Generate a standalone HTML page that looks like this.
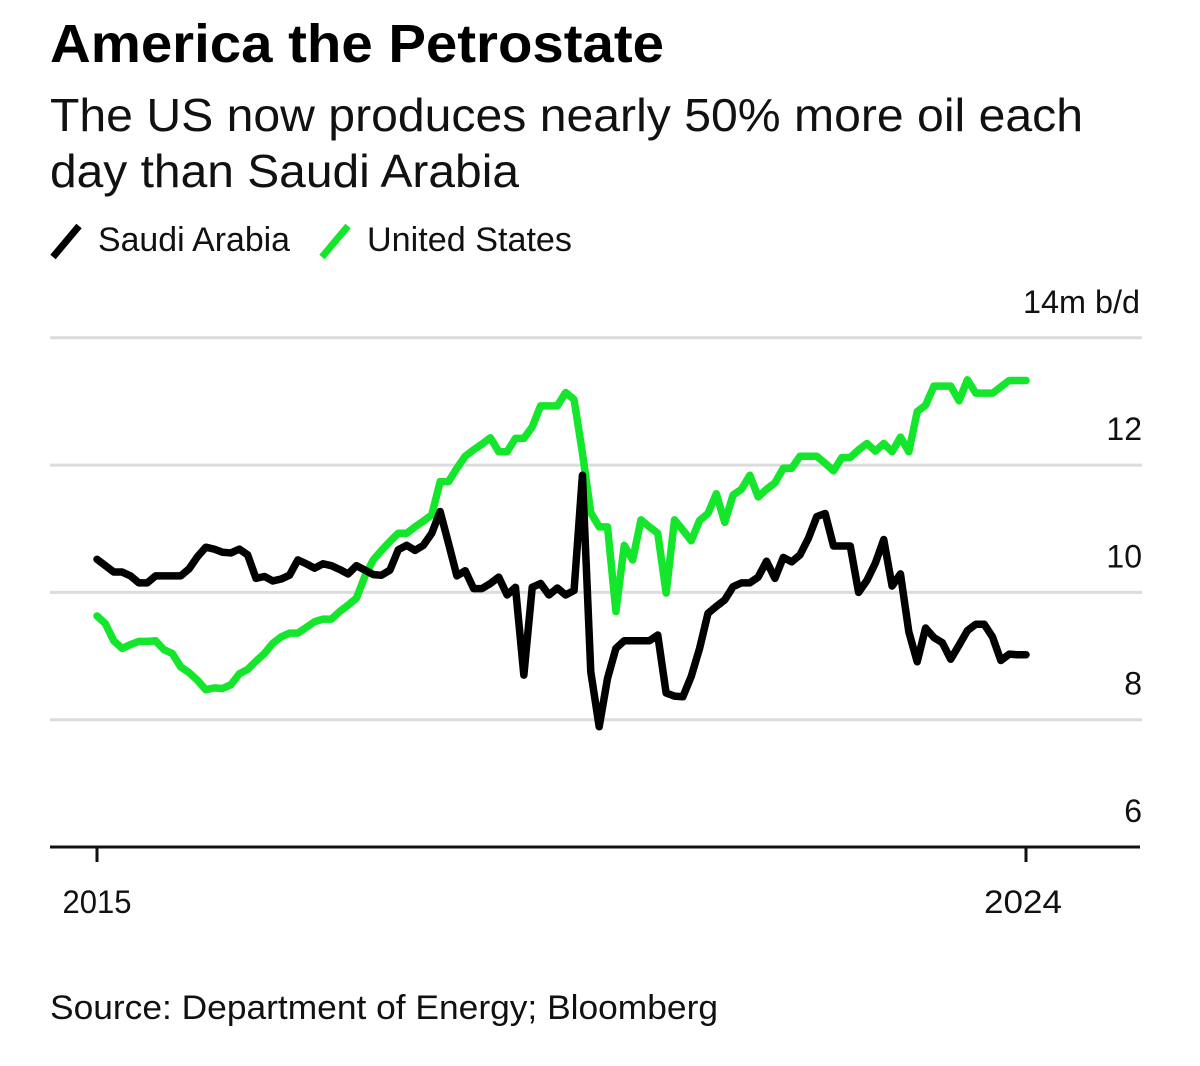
<!DOCTYPE html>
<html lang="en">
<head>
<meta charset="utf-8">
<title>America the Petrostate</title>
<style>
  html, body { margin: 0; padding: 0; background: #fff; }
  svg { display: block; }
  text { font-family: "Liberation Sans", Arial, sans-serif; fill: #111; }
</style>
</head>
<body>
<svg id="chart" xmlns="http://www.w3.org/2000/svg" width="1200" height="1066" viewBox="0 0 1200 1066">
  <rect x="0" y="0" width="1200" height="1066" fill="#fff"/>
  <text x="50" y="62" font-size="54" font-weight="700" textLength="614" lengthAdjust="spacingAndGlyphs" style="fill:#000">America the Petrostate</text>
  <text x="50" y="131" font-size="46" textLength="1033" lengthAdjust="spacingAndGlyphs">The US now produces nearly 50% more oil each</text>
  <text x="50" y="187" font-size="46" textLength="469" lengthAdjust="spacingAndGlyphs">day than Saudi Arabia</text>

  <g>
    <line x1="53" y1="257" x2="79" y2="226" stroke="#000" stroke-width="7"/>
    <text x="98" y="251" font-size="34" textLength="192" lengthAdjust="spacingAndGlyphs">Saudi Arabia</text>
    <line x1="322" y1="257" x2="348" y2="226" stroke="#14e62c" stroke-width="7"/>
    <text x="367" y="251" font-size="34" textLength="205" lengthAdjust="spacingAndGlyphs">United States</text>
  </g>

  <g id="grid"></g>
  <g id="y-labels"></g>
  <g id="series"></g>
  <g id="x-axis"></g>

  <text x="50" y="1019" font-size="34" textLength="668" lengthAdjust="spacingAndGlyphs">Source: Department of Energy; Bloomberg</text>
</svg>

<script>
const yTickValues = [14, 12, 10, 8, 6];
const yTickLabels = ["14m b/d", "12", "10", "8", "6"];
const xTickIndexes = [0, 111];
const xTickLabels = ["2015", "2024"];

const saudiArabia = [
  10.52,10.42,10.32,10.32,10.26,10.15,10.15,10.26,10.26,10.26,10.26,10.37,10.56,10.71,10.68,10.63,
  10.62,10.68,10.59,10.22,10.25,10.18,10.21,10.27,10.51,10.45,10.38,10.45,10.42,10.36,10.29,10.42,
  10.35,10.28,10.27,10.35,10.67,10.74,10.66,10.74,10.93,11.27,10.77,10.26,10.34,10.06,10.06,10.14,
  10.24,9.96,10.08,8.70,10.08,10.14,9.96,10.07,9.96,10.03,11.84,8.75,7.89,8.65,9.12,9.24,
  9.24,9.24,9.24,9.33,8.42,8.37,8.36,8.68,9.12,9.67,9.78,9.88,10.09,10.15,10.15,10.24,
  10.49,10.22,10.55,10.48,10.59,10.85,11.19,11.24,10.73,10.73,10.73,10.00,10.19,10.46,10.83,10.10,
  10.29,9.38,8.91,9.44,9.29,9.21,8.95,9.17,9.40,9.50,9.50,9.30,8.93,9.03,9.02,9.02
];

const unitedStates = [
  9.63,9.51,9.24,9.12,9.18,9.23,9.23,9.24,9.10,9.04,8.83,8.74,8.62,8.47,8.50,8.49,
  8.55,8.72,8.79,8.92,9.04,9.20,9.30,9.36,9.36,9.45,9.54,9.58,9.58,9.70,9.80,9.91,
  10.25,10.51,10.66,10.80,10.93,10.93,11.03,11.12,11.22,11.74,11.74,11.95,12.14,12.24,12.33,12.43,
  12.21,12.21,12.42,12.42,12.60,12.93,12.93,12.93,13.14,13.03,12.19,11.25,11.03,11.03,9.70,10.74,
  10.51,11.14,11.03,10.93,9.99,11.14,10.98,10.81,11.13,11.24,11.55,11.10,11.53,11.62,11.84,11.50,
  11.62,11.72,11.95,11.95,12.14,12.14,12.14,12.03,11.91,12.12,12.12,12.24,12.34,12.22,12.34,12.21,
  12.44,12.21,12.84,12.94,13.24,13.24,13.24,13.01,13.34,13.13,13.13,13.13,13.23,13.33,13.33,13.33
];

const SVG_NS = "http://www.w3.org/2000/svg";
const plotLeft = 97, plotRight = 1026, baseY = 847, unitPx = 63.65;
const pointCount = saudiArabia.length;

function xScale(i) {
  return plotLeft + i * (plotRight - plotLeft) / (pointCount - 1);
}
function yScale(v) {
  return baseY - (v - 6) * unitPx;
}
function make(tag, attrs, parent, content) {
  const el = document.createElementNS(SVG_NS, tag);
  Object.keys(attrs).forEach(function (k) { el.setAttribute(k, attrs[k]); });
  if (content !== undefined) el.textContent = content;
  parent.appendChild(el);
  return el;
}

const gridGroup = document.getElementById("grid");
const yLabelGroup = document.getElementById("y-labels");
yTickValues.forEach(function (v, i) {
  if (v !== 6) {
    const gridLine = make("line", { x1: 50, x2: 1142, y1: yScale(v), y2: yScale(v), stroke: "#dcdcdc", "stroke-width": 3 }, gridGroup);
    
    
  }
  const attrs = { x: i === 0 ? 1140 : 1142, y: yScale(v) - 25, "text-anchor": "end", "font-size": 32 };
  if (i === 0) { attrs.textLength = 117; attrs.lengthAdjust = "spacingAndGlyphs"; }
  const tickLabel = make("text", attrs, yLabelGroup, yTickLabels[i]);
  
  
});

const seriesGroup = document.getElementById("series");
function linePath(values) {
  return values.map(function (v, i) {
    return (i ? "L" : "M") + xScale(i).toFixed(2) + " " + yScale(v).toFixed(2);
  }).join(" ");
}
const usLine = make("path", { d: linePath(unitedStates), fill: "none", stroke: "#14e62c", "stroke-width": 7.5, "stroke-linejoin": "round", "stroke-linecap": "round" }, seriesGroup);


const saudiLine = make("path", { d: linePath(saudiArabia), fill: "none", stroke: "#000", "stroke-width": 7.5, "stroke-linejoin": "round", "stroke-linecap": "round" }, seriesGroup);



const xGroup = document.getElementById("x-axis");
const axisLine = make("line", { x1: 50, x2: 1140, y1: baseY, y2: baseY, stroke: "#111", "stroke-width": 3 }, xGroup);


xTickIndexes.forEach(function (idx, i) {
  const x = xScale(idx);
  const tick = make("line", { x1: x, x2: x, y1: baseY, y2: baseY + 15, stroke: "#111", "stroke-width": 3 }, xGroup);
  
  
  const label = make("text", { x: i === 0 ? x : x - 3, y: 913, "text-anchor": "middle", "font-size": 32, textLength: i === 0 ? 69 : 78, lengthAdjust: "spacingAndGlyphs" }, xGroup, xTickLabels[i]);
  
  
});
</script>
</body>
</html>
